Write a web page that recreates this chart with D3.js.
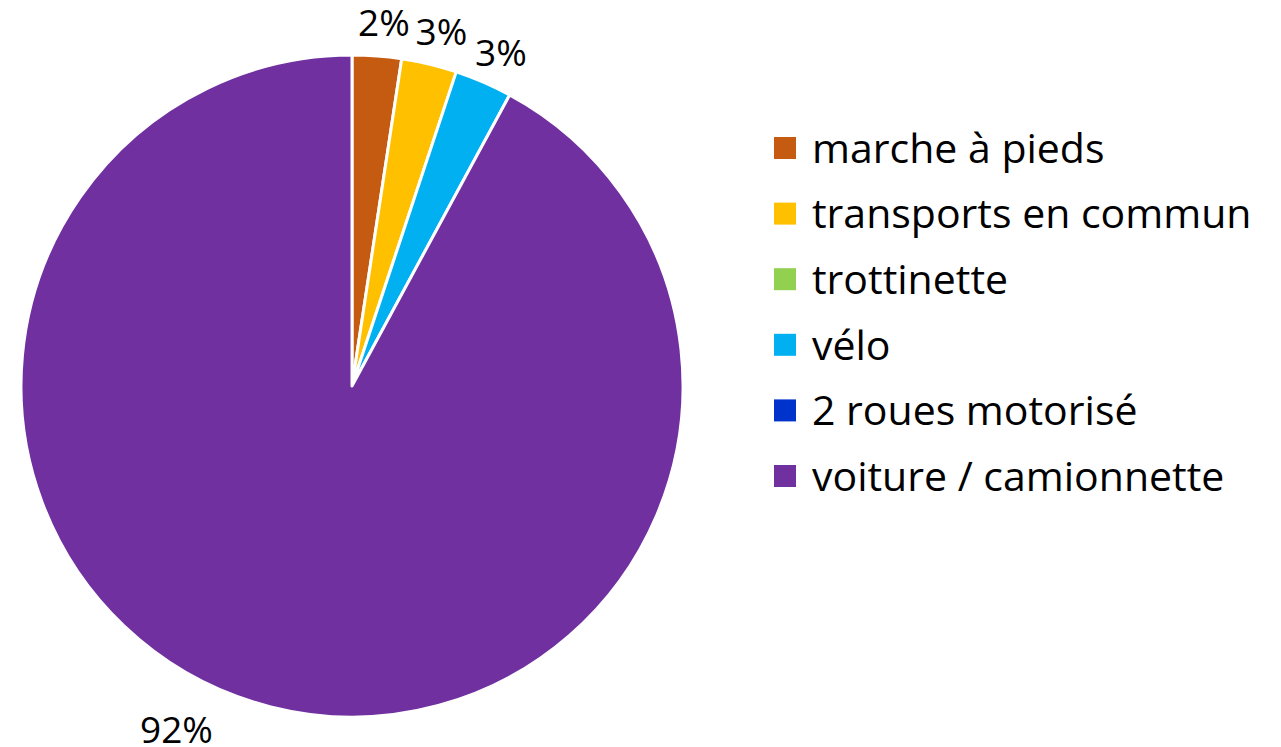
<!DOCTYPE html>
<html>
<head>
<meta charset="utf-8">
<script src="https://cdn.jsdelivr.net/npm/d3@7"></script>
<style>
  body { margin: 0; background: #fff; }
  text { font-family: "Open Sans", Lato, sans-serif; fill: #000; }
</style>
</head>
<body>
<div id="chart"></div>
<script>
// data
var categories = ["marche à pieds", "transports en commun", "trottinette", "vélo", "2 roues motorisé", "voiture / camionnette"];
var values = [2.4, 2.7, 0, 2.8, 0, 92.1];
var colors = ["#C55A11", "#FFC000", "#92D050", "#00B0F0", "#0033CC", "#7030A0"];

var width = 1281, height = 747;
var cx = 352, cy = 386, radius = 331;

var svg = d3.select("#chart").append("svg")
    .attr("width", width)
    .attr("height", height);

var data = categories.map(function(c, i) { return { name: c, value: values[i], color: colors[i] }; });

var pie = d3.pie().sort(null).value(function(d) { return d.value; });
var arcs = pie(data);

var arc = d3.arc().innerRadius(0).outerRadius(radius);

var g = svg.append("g").attr("transform", "translate(" + cx + "," + cy + ")");

g.selectAll("path.slice")
  .data(arcs.filter(function(d) { return d.data.value > 0; }))
  .enter().append("path")
    .attr("class", "slice")
    .attr("d", arc)
    .attr("fill", function(d) { return d.data.color; })
    .attr("stroke", "#fff")
    .attr("stroke-width", 3)
    .attr("stroke-linejoin", "round");

// labels outside the pie (best fit like Excel)
var total = d3.sum(values);
g.selectAll("text.lbl")
  .data(arcs.filter(function(d) { return d.data.value > 0; }))
  .enter().append("text")
    .attr("class", "lbl")
    .attr("transform", function(d) {
      var big = d.data.value > 50;
      var a = (d.startAngle + d.endAngle) / 2 + (big ? 0.224 : 0.012);
      var r = big ? 386 : 365;
      return "translate(" + (r * Math.sin(a)) + "," + (-r * Math.cos(a)) + ")";
    })
    .attr("text-anchor", "middle")
    .attr("dy", "0.36em")
    .style("font-size", "37px")
    .text(function(d) { return Math.round(d.data.value / total * 100) + "%"; });

// legend
var legend = svg.append("g").attr("transform", "translate(774,148)");
var rows = legend.selectAll("g.row")
  .data(data)
  .enter().append("g")
    .attr("class", "row")
    .attr("transform", function(d, i) { return "translate(0," + (i * 65.6) + ")"; });

rows.append("rect")
    .attr("x", 0).attr("y", -11)
    .attr("width", 22).attr("height", 22)
    .attr("fill", function(d) { return d.color; });

rows.append("text")
    .attr("x", 38)
    .attr("dy", "0.36em")
    .style("font-size", "41px")
    .text(function(d) { return d.name; });
</script>
</body>
</html>
